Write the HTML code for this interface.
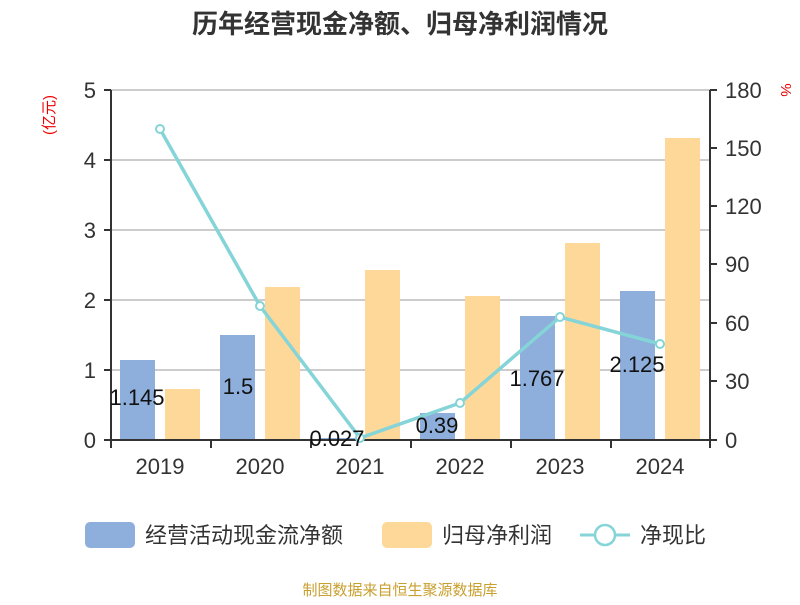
<!DOCTYPE html>
<html><head><meta charset="utf-8"><style>
body{margin:0;background:#fff;}
svg text{font-family:"Liberation Sans","Noto Sans CJK SC",sans-serif;}
</style></head><body>
<svg width="800" height="600" xmlns="http://www.w3.org/2000/svg">
<text x="400" y="33" text-anchor="middle" font-size="26" font-weight="bold" fill="#333">历年经营现金净额、归母净利润情况</text>
<g stroke="#ccc" stroke-width="2">
<line x1="111" y1="90" x2="710" y2="90"/><line x1="111" y1="160" x2="710" y2="160"/>
<line x1="111" y1="230" x2="710" y2="230"/><line x1="111" y1="300" x2="710" y2="300"/>
<line x1="111" y1="370" x2="710" y2="370"/>
</g>
<g fill="#8eaedb">
<rect x="120" y="360" width="35" height="80"/><rect x="220" y="335" width="35" height="105"/>
<rect x="320" y="438" width="35" height="2"/><rect x="420" y="413" width="35" height="27"/>
<rect x="520" y="316" width="35" height="124"/><rect x="620" y="291" width="35" height="149"/>
</g>
<g fill="#fed899">
<rect x="165" y="389" width="35" height="51"/><rect x="265" y="287" width="35" height="153"/>
<rect x="365" y="270" width="35" height="170"/><rect x="465" y="296" width="35" height="144"/>
<rect x="565" y="243" width="35" height="197"/><rect x="665" y="138" width="35" height="302"/>
</g>
<g stroke="#333" stroke-width="2" fill="none">
<line x1="111" y1="90" x2="111" y2="448"/><line x1="710" y1="90" x2="710" y2="448"/>
<line x1="104" y1="440" x2="717" y2="440"/>
<line x1="104" y1="90" x2="111" y2="90"/><line x1="104" y1="160" x2="111" y2="160"/><line x1="104" y1="230" x2="111" y2="230"/><line x1="104" y1="300" x2="111" y2="300"/><line x1="104" y1="370" x2="111" y2="370"/>
<line x1="710" y1="90" x2="717" y2="90"/><line x1="710" y1="148" x2="717" y2="148"/><line x1="710" y1="206" x2="717" y2="206"/><line x1="710" y1="264" x2="717" y2="264"/><line x1="710" y1="323" x2="717" y2="323"/><line x1="710" y1="381" x2="717" y2="381"/>
<line x1="211" y1="440" x2="211" y2="448"/><line x1="311" y1="440" x2="311" y2="448"/><line x1="411" y1="440" x2="411" y2="448"/><line x1="511" y1="440" x2="511" y2="448"/><line x1="611" y1="440" x2="611" y2="448"/>
</g>
<g font-size="22" fill="#333" text-anchor="end">
<text x="96" y="98">5</text><text x="96" y="168">4</text><text x="96" y="238">3</text><text x="96" y="308">2</text><text x="96" y="378">1</text><text x="96" y="448">0</text>
</g>
<g font-size="22" fill="#333" text-anchor="start">
<text x="725" y="98">180</text><text x="725" y="156">150</text><text x="725" y="214">120</text><text x="725" y="272">90</text><text x="725" y="331">60</text><text x="725" y="389">30</text><text x="725" y="448">0</text>
</g>
<g font-size="22" fill="#333" text-anchor="middle">
<text x="160" y="474">2019</text><text x="260" y="474">2020</text><text x="360" y="474">2021</text><text x="460" y="474">2022</text><text x="560" y="474">2023</text><text x="660" y="474">2024</text>
</g>
<text transform="translate(54,115) rotate(-90)" text-anchor="middle" font-size="15" fill="#e00">(亿元)</text>
<text transform="translate(781,90) rotate(90)" text-anchor="middle" font-size="15" fill="#e00">%</text>
<polyline points="160,129 260,306 360,438 460,403 560,317 660,344" fill="none" stroke="#84d4d8" stroke-width="3.5"/>
<g fill="#fff" stroke="#84d4d8" stroke-width="2">
<circle cx="160" cy="129" r="4"/><circle cx="260" cy="306" r="4"/><circle cx="360" cy="438" r="4"/><circle cx="460" cy="403" r="4"/><circle cx="560" cy="317" r="4"/><circle cx="660" cy="344" r="4"/>
</g>
<g font-size="22" fill="#111" text-anchor="middle">
<text x="137" y="405">1.145</text><text x="238" y="394">1.5</text><text x="337" y="446">0.027</text><text x="437" y="433">0.39</text><text x="537" y="386">1.767</text><text x="637" y="372">2.125</text>
</g>
<rect x="85" y="522" width="50" height="26" rx="5" fill="#8eaedb"/>
<text x="145" y="543" font-size="22" fill="#333">经营活动现金流净额</text>
<rect x="382" y="522" width="50" height="26" rx="5" fill="#fed899"/>
<text x="442" y="543" font-size="22" fill="#333">归母净利润</text>
<line x1="580" y1="535" x2="630" y2="535" stroke="#84d4d8" stroke-width="3"/>
<circle cx="605" cy="535" r="10" fill="#fff" stroke="#84d4d8" stroke-width="2.5"/>
<text x="640" y="543" font-size="22" fill="#333">净现比</text>
<text x="400" y="595" text-anchor="middle" font-size="15" fill="#c8a030">制图数据来自恒生聚源数据库</text>
</svg>
</body></html>
